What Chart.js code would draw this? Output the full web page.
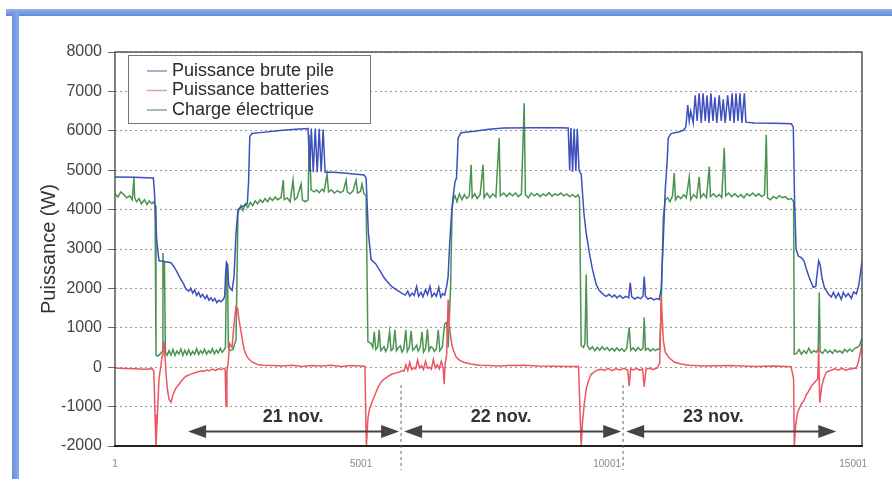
<!DOCTYPE html>
<html>
<head>
<meta charset="utf-8">
<script src="https://cdn.jsdelivr.net/npm/chart.js@4.4.1/dist/chart.umd.min.js"></script>
<style>
  html, body { margin: 0; padding: 0; background: #fff; }
  #wrap { position: relative; width: 892px; height: 481px; }
  #topBar { position: absolute; left: 6px; top: 9px; width: 886px; height: 7px;
            background: linear-gradient(#93b2ea, #6089d9); }
  #leftBar { position: absolute; left: 12px; top: 13px; width: 7px; height: 466px;
             background: linear-gradient(90deg, #6990dc, #8aabe7); }
</style>
</head>
<body>
<div id="wrap">
  <canvas id="powerChart" width="892" height="481"></canvas>
  <div id="topBar"></div>
  <div id="leftBar"></div>
</div>
<script>

// series labels and colours
let seriesLabels = ['Puissance brute pile', 'Puissance batteries', 'Charge électrique'];
let seriesColors = ['#3d50bd', '#ec5660', '#4a9450'];
let legendColors = ['#8d97b8', '#dba3a6', '#86ab8c'];
let yTitle = 'Puissance (W)';
let xTickValues = [1, 5001, 10001, 15001];

// day annotations
let dayLabels = ['21 nov.', '22 nov.', '23 nov.'];
let dayLabelX = [3620, 7848, 12159];
let dayStart = [1485, 5875, 10388];
let dayEnd = [5774, 10287, 14658];
let dayBounds = [5814, 10325];

// Puissance brute pile
let pileX = [1, 380, 780, 800, 850, 895, 1000, 1139, 1200, 1260, 1330, 1400, 1443, 1500, 1540, 1580, 1620, 1660, 1700, 1740,
  1780, 1830, 1870, 1910, 1950, 1990, 2030, 2070, 2110, 2150, 2200, 2230, 2250, 2270, 2290, 2310, 2340, 2380, 2420, 2460,
  2500, 2560, 2620, 2690, 2715, 2740, 2780, 3000, 3300, 3600, 3924, 3960, 3990, 4030, 4070, 4110, 4150, 4190, 4230, 4270,
  4450, 4700, 4900, 5062, 5103, 5150, 5205, 5300, 5408, 5480, 5550, 5620, 5700, 5780, 5850, 5900, 5950, 5990, 6040, 6080,
  6130, 6170, 6220, 6260, 6310, 6350, 6400, 6440, 6490, 6530, 6580, 6620, 6660, 6700, 6740, 6770, 6800, 6840, 6872, 6910,
  6940, 6960, 6973, 7034, 7300, 7600, 7900, 8500, 9000, 9210, 9240, 9265, 9300, 9330, 9365, 9395, 9430, 9474, 9530, 9576,
  9640, 9700, 9779, 9840, 9881, 9940, 9982, 10040, 10100, 10150, 10200, 10260, 10320, 10380, 10440, 10470, 10500, 10560, 10620, 10680,
  10730, 10755, 10780, 10830, 10890, 10950, 11010, 11060, 11100, 11141, 11182, 11220, 11243, 11300, 11450, 11560, 11600, 11640, 11670, 11700,
  11751, 11790, 11830, 11870, 11914, 11950, 11995, 12030, 12070, 12110, 12150, 12190, 12230, 12280, 12320, 12360, 12400, 12450, 12500, 12540,
  12580, 12620, 12660, 12700, 12740, 12790, 12820, 13000, 13400, 13743, 13784, 13810, 13840, 13885, 13946, 14000, 14048, 14100, 14150, 14190,
  14240, 14270, 14300, 14330, 14370, 14420, 14455, 14500, 14557, 14600, 14650, 14700, 14760, 14800, 14850, 14900, 14963, 15010, 15065, 15110,
  15150, 15180];
let pileY = [4830, 4820, 4800, 4500, 3200, 2700, 2680, 2650, 2550, 2420, 2250, 2100, 1980, 1930, 2000, 1880, 1960, 1820, 1900, 1780,
  1850, 1740, 1820, 1700, 1760, 1680, 1740, 1640, 1700, 1660, 1720, 1800, 2400, 2650, 2600, 2100, 2000, 1950, 2300, 3400,
  4000, 4060, 4100, 4150, 4700, 5850, 5930, 5960, 6000, 6030, 6060, 4960, 6060, 4950, 6060, 4950, 6050, 4960, 6040, 4950,
  4950, 4920, 4900, 4880, 4800, 3400, 2730, 2620, 2400, 2250, 2150, 2050, 1980, 1920, 1860, 1830, 1930, 1800, 1880, 1820,
  2050, 1800, 1900, 1790, 1970, 1840, 2050, 1790, 1880, 1800, 2030, 1780, 1870, 1830, 2050, 2300, 3100, 3900, 4330, 4700,
  4800, 5400, 5820, 5950, 5990, 6040, 6070, 6080, 6080, 6070, 5000, 6070, 4960, 6050, 4980, 6050, 4990, 4900, 3900, 3400,
  2900, 2500, 2100, 1950, 1900, 1830, 1800, 1850, 1780, 1830, 1760, 1820, 1750, 1800, 1760, 2150, 1790, 1730, 1780, 1740,
  1800, 2300, 1800, 1730, 1760, 1710, 1740, 1720, 2000, 3200, 4500, 5200, 5820, 5930, 5970, 6020, 6100, 6650, 6250, 6500,
  6200, 6900, 6250, 6950, 6200, 6950, 6250, 6900, 6200, 6950, 6250, 6850, 6200, 6900, 6250, 6800, 6200, 6900, 6250, 6950,
  6200, 6950, 6250, 6950, 6200, 6950, 6220, 6200, 6190, 6180, 6100, 4200, 3000, 2820, 2780, 2700, 2500, 2300, 2150, 2030,
  2050, 2400, 2700, 2600, 2250, 2000, 1950, 1850, 1780, 1900, 1760, 1880, 1720, 1900, 1790, 1870, 1750, 1910, 1860, 2050,
  2400, 2700];

// Puissance batteries
let battX = [1, 200, 400, 600, 760, 790, 815, 834, 860, 895, 935, 960, 975, 996, 1015, 1040, 1070, 1100, 1139, 1180,
  1230, 1290, 1350, 1400, 1443, 1500, 1560, 1620, 1680, 1740, 1800, 1860, 1920, 1980, 2040, 2100, 2160, 2210, 2240, 2257,
  2275, 2300, 2330, 2380, 2420, 2460, 2490, 2521, 2562, 2623, 2680, 2724, 2800, 2900, 3000, 3200, 3400, 3600, 3800, 4000,
  4200, 4400, 4600, 4800, 5000, 5080, 5100, 5110, 5140, 5175, 5205, 5250, 5300, 5350, 5408, 5470, 5550, 5620, 5700, 5780,
  5830, 5875, 5910, 5950, 5990, 6030, 6070, 6110, 6150, 6190, 6230, 6270, 6310, 6350, 6390, 6430, 6470, 6510, 6550, 6590,
  6630, 6670, 6690, 6710, 6740, 6770, 6800, 6840, 6872, 6933, 7000, 7100, 7238, 7400, 7600, 7800, 8000, 8300, 8600, 8900,
  9200, 9420, 9460, 9474, 9500, 9540, 9576, 9620, 9677, 9760, 9840, 9881, 9950, 10020, 10100, 10180, 10260, 10340, 10420, 10450,
  10480, 10540, 10600, 10660, 10720, 10755, 10790, 10860, 10940, 11020, 11070, 11100, 11141, 11182, 11250, 11365, 11500, 11670, 12000, 12500,
  13000, 13400, 13740, 13790, 13804, 13830, 13870, 13946, 14000, 14048, 14100, 14150, 14220, 14280, 14300, 14320, 14360, 14400, 14455, 14520,
  14557, 14620, 14700, 14780, 14850, 14920, 14963, 15020, 15065, 15110, 15150, 15180];
let battY = [-20, -30, -40, -50, -40, -100, -1200, -1990, -1300, -300, 50, 300, 600, 630, 300, -200, -600, -820, -890, -700,
  -550, -450, -350, -280, -230, -200, -170, -140, -120, -90, -110, -70, -90, -50, -80, -40, -60, -30, -50, -1000,
  -100, 100, 600, 500, 1100, 1540, 1500, 1200, 900, 450, 280, 200, 120, 70, 50, 40, 30, 50, 20, 40,
  30, 50, 20, 40, 30, 20, -1500, -1990, -1300, -1050, -950, -800, -650, -500, -380, -300, -230, -180, -150, -120,
  -90, -100, 60, -80, 120, -60, -10, -40, 180, -20, 40, -60, 150, -30, 0, -50, 200, -20, 60, -40,
  150, -30, -430, 100, 300, 1720, 1000, 600, 450, 260, 180, 120, 80, 50, 40, 30, 40, 50, 30, 25,
  20, 15, -1500, -1990, -1400, -900, -560, -350, -180, -100, -60, -50, -80, -30, -90, -40, -70, -30, -80, -480,
  -40, -70, -30, -80, -40, -500, -50, -30, -60, -20, 100, 1800, 700, 380, 250, 130, 80, 50, 30, 40,
  20, 30, 10, -300, -1990, -1500, -1150, -940, -850, -700, -600, -480, -380, -300, 530, -900, -500, -300, -130, -90,
  -80, -40, -70, -30, -80, -40, -50, -20, -30, 150, 400, 600];

// Charge électrique
let chargeX = [1, 60, 120, 180, 240, 300, 350, 386, 400, 440, 490, 540, 600, 650, 700, 750, 790, 815, 834, 870,
  930, 960, 975, 990, 1005, 1025, 1060, 1100, 1140, 1180, 1220, 1260, 1300, 1340, 1380, 1420, 1460, 1500, 1540, 1580,
  1620, 1660, 1700, 1740, 1780, 1820, 1860, 1900, 1940, 1980, 2020, 2060, 2100, 2140, 2180, 2220, 2245, 2265, 2285, 2305,
  2340, 2400, 2460, 2500, 2521, 2560, 2600, 2650, 2700, 2750, 2800, 2850, 2900, 2950, 3000, 3050, 3100, 3150, 3200, 3260,
  3300, 3375, 3420, 3440, 3500, 3560, 3619, 3650, 3700, 3782, 3810, 3870, 3924, 3950, 3985, 4046, 4100, 4150, 4210, 4250,
  4310, 4340, 4400, 4460, 4520, 4580, 4640, 4697, 4720, 4780, 4840, 4900, 4930, 4990, 5020, 5062, 5103, 5140, 5205, 5240,
  5270, 5300, 5340, 5370, 5400, 5440, 5470, 5500, 5540, 5580, 5610, 5650, 5690, 5720, 5760, 5800, 5830, 5870, 5910, 5940,
  5980, 6020, 6050, 6090, 6130, 6160, 6200, 6240, 6270, 6310, 6350, 6380, 6420, 6460, 6490, 6530, 6570, 6600, 6650, 6700,
  6740, 6770, 6820, 6850, 6872, 6910, 6950, 7000, 7050, 7100, 7150, 7200, 7238, 7260, 7310, 7360, 7420, 7481, 7500, 7560,
  7620, 7680, 7740, 7807, 7830, 7900, 7960, 8020, 8080, 8140, 8200, 8260, 8315, 8340, 8400, 8460, 8520, 8580, 8640, 8700,
  8760, 8820, 8880, 8940, 9000, 9060, 9120, 9180, 9240, 9300, 9360, 9410, 9440, 9474, 9520, 9550, 9576, 9600, 9650, 9700,
  9750, 9800, 9850, 9900, 9950, 10000, 10050, 10100, 10150, 10200, 10250, 10300, 10350, 10400, 10450, 10480, 10530, 10580, 10630, 10680,
  10730, 10755, 10780, 10830, 10880, 10930, 10980, 11030, 11070, 11100, 11141, 11182, 11230, 11280, 11330, 11365, 11390, 11440, 11500, 11560,
  11609, 11670, 11700, 11760, 11820, 11873, 11900, 11960, 12020, 12076, 12100, 12160, 12220, 12280, 12330, 12381, 12410, 12470, 12530, 12600,
  12660, 12720, 12780, 12840, 12900, 12960, 13020, 13080, 13140, 13200, 13235, 13260, 13320, 13380, 13440, 13500, 13560, 13620, 13680, 13743,
  13790, 13804, 13850, 13900, 13950, 14000, 14050, 14100, 14150, 14200, 14250, 14290, 14312, 14330, 14380, 14430, 14480, 14530, 14580, 14630,
  14680, 14730, 14780, 14830, 14880, 14930, 14980, 15030, 15080, 15130, 15180];
let chargeY = [4400, 4320, 4450, 4380, 4300, 4350, 4250, 4800, 4300, 4200, 4280, 4150, 4250, 4130, 4220, 4150, 4200, 4100, 300, 280,
  350, 400, 2900, 2000, 2700, 380, 300, 420, 310, 450, 300, 410, 330, 460, 300, 430, 320, 440, 310, 400,
  330, 470, 320, 420, 350, 460, 330, 420, 360, 470, 340, 430, 360, 480, 380, 450, 500, 2650, 2600, 500,
  420, 450, 700, 3900, 4000, 4100, 3980, 4150, 4050, 4180, 4100, 4220, 4150, 4250, 4180, 4280, 4200, 4300, 4230, 4320,
  4250, 4300, 4750, 4250, 4300, 4200, 4750, 4250, 4300, 4650, 4250, 4200, 4250, 5900, 4500, 4450, 4500, 4430, 4520, 4460,
  4900, 4450, 4500, 4420, 4480, 4430, 4470, 4750, 4450, 4400, 4480, 4750, 4420, 4460, 4650, 4400, 4350, 650, 600, 500,
  900, 450, 520, 950, 420, 480, 520, 400, 500, 900, 420, 460, 950, 420, 500, 540, 380, 470, 950, 400,
  500, 920, 430, 480, 560, 410, 500, 900, 380, 470, 960, 420, 520, 480, 400, 460, 950, 420, 500, 1100,
  1140, 500, 2000, 4000, 4250, 4350, 4200, 4400, 4250, 4380, 4280, 4350, 5140, 4300, 4400, 4280, 4380, 5140, 4300, 4420,
  4300, 4400, 4320, 5820, 4350, 4420, 4330, 4420, 4350, 4420, 4330, 4400, 6700, 4380, 4300, 4420, 4350, 4410, 4330, 4400,
  4350, 4430, 4340, 4400, 4360, 4420, 4350, 4400, 4330, 4380, 4320, 4370, 4300, 550, 500, 600, 2350, 550, 450, 520,
  420, 500, 430, 520, 440, 500, 420, 480, 410, 490, 420, 470, 400, 480, 1010, 430, 490, 410, 500, 430,
  480, 1260, 430, 480, 410, 470, 420, 460, 450, 1500, 3800, 4250, 4300, 4200, 4350, 4930, 4250, 4350, 4280, 4380,
  4300, 4830, 4250, 4380, 4300, 4830, 4300, 4400, 4300, 5090, 4330, 4400, 4320, 4380, 4300, 5570, 4350, 4420, 4330, 4400,
  4320, 4380, 4300, 4400, 4350, 4420, 4340, 4400, 4330, 4380, 5900, 4300, 4250, 4330, 4280, 4350, 4300, 4330, 4260, 4280,
  4200, 330, 350, 450, 330, 420, 350, 480, 360, 420, 380, 450, 1900, 400, 350, 450, 370, 420, 350, 440,
  380, 420, 360, 450, 390, 460, 400, 480, 500, 550, 750];

function toPoints(xs, ys) {
    return xs.map((v, i) => ({ x: v, y: ys[i] }));
}

const fontFamily = '"Liberation Sans", Arial, sans-serif';

// frame, day arrows and legend box drawn on top of the datasets
const decorPlugin = {
    id: 'decor',
    afterDatasetsDraw(chart) {
        const { ctx, chartArea: a, scales } = chart;
        const x = scales.x, y = scales.y;
        ctx.save();

        // plot frame
        ctx.setLineDash([]);
        ctx.strokeStyle = '#555';
        ctx.lineWidth = 1.5;
        ctx.beginPath();
        ctx.moveTo(a.left, a.bottom);
        ctx.lineTo(a.left, a.top);
        ctx.lineTo(a.right, a.top);
        ctx.lineTo(a.right, a.bottom);
        ctx.stroke();
        ctx.strokeStyle = '#222';
        ctx.lineWidth = 2;
        ctx.beginPath();
        ctx.moveTo(a.left - 1, a.bottom);
        ctx.lineTo(a.right + 1, a.bottom);
        ctx.stroke();

        // day boundaries
        ctx.strokeStyle = '#666';
        ctx.lineWidth = 1;
        ctx.setLineDash([3, 3]);
        dayBounds.forEach(v => {
            const px = x.getPixelForValue(v);
            ctx.beginPath();
            ctx.moveTo(px, y.getPixelForValue(-450));
            ctx.lineTo(px, a.bottom + 24);
            ctx.stroke();
        });
        ctx.setLineDash([]);

        // day arrows
        const ay = y.getPixelForValue(-1630);
        const ly = y.getPixelForValue(-1270);
        ctx.strokeStyle = '#444';
        ctx.lineWidth = 2;
        ctx.font = 'bold 18px ' + fontFamily;
        ctx.textAlign = 'center';
        ctx.textBaseline = 'middle';
        dayLabels.forEach((lab, i) => {
            const x1 = x.getPixelForValue(dayStart[i]);
            const x2 = x.getPixelForValue(dayEnd[i]);
            ctx.fillStyle = '#444';
            ctx.beginPath();
            ctx.moveTo(x1 + 10, ay);
            ctx.lineTo(x2 - 10, ay);
            ctx.stroke();
            ctx.beginPath();
            ctx.moveTo(x1, ay); ctx.lineTo(x1 + 18, ay - 6.5); ctx.lineTo(x1 + 18, ay + 6.5); ctx.closePath();
            ctx.fill();
            ctx.beginPath();
            ctx.moveTo(x2, ay); ctx.lineTo(x2 - 18, ay - 6.5); ctx.lineTo(x2 - 18, ay + 6.5); ctx.closePath();
            ctx.fill();
            ctx.fillStyle = '#333';
            ctx.fillText(lab, x.getPixelForValue(dayLabelX[i]), ly);
        });

        // legend box
        const bx = a.left + 13, by = a.top + 3, bw = 242, bh = 68;
        ctx.fillStyle = '#fff';
        ctx.fillRect(bx, by, bw, bh);
        ctx.strokeStyle = '#777';
        ctx.lineWidth = 1;
        ctx.strokeRect(bx + 0.5, by + 0.5, bw, bh);
        ctx.font = '18px ' + fontFamily;
        ctx.textAlign = 'left';
        ctx.textBaseline = 'middle';
        chart.data.datasets.forEach((ds, i) => {
            const ry = by + 16 + i * 19.5;
            ctx.strokeStyle = legendColors[i];
            ctx.lineWidth = 1.5;
            ctx.beginPath();
            ctx.moveTo(bx + 19, ry);
            ctx.lineTo(bx + 39, ry);
            ctx.stroke();
            ctx.fillStyle = '#2a2a2a';
            ctx.fillText(ds.label, bx + 44, ry);
        });
        ctx.restore();
    }
};

const ctx = document.getElementById('powerChart');
const powerChart = new Chart(ctx, {
    type: 'line',
    data: {
        datasets: [
            { label: seriesLabels[0], data: toPoints(pileX, pileY), borderColor: seriesColors[0] },
            { label: seriesLabels[1], data: toPoints(battX, battY), borderColor: seriesColors[1] },
            { label: seriesLabels[2], data: toPoints(chargeX, chargeY), borderColor: seriesColors[2] }
        ]
    },
    options: {
        responsive: false,
        animation: false,
        elements: {
            line: { borderWidth: 1.5, tension: 0 },
            point: { radius: 0 }
        },
        layout: { padding: { top: 52, right: 30, left: 0, bottom: 0 } },
        plugins: {
            legend: { display: false },
            tooltip: { enabled: false }
        },
        scales: {
            x: {
                type: 'linear',
                min: 1,
                max: 15180,
                afterBuildTicks: s => { s.ticks = xTickValues.map(v => ({ value: v })); },
                afterFit: s => { s.height = 35; },
                ticks: {
                    color: '#8a8a8a',
                    font: { family: fontFamily, size: 10 },
                    padding: 12,
                    maxRotation: 0,
                    autoSkip: false,
                    callback: v => String(v)
                },
                grid: { display: false, drawTicks: false },
                border: { display: false }
            },
            y: {
                min: -2000,
                max: 8000,
                afterFit: s => { s.width = 115; },
                ticks: {
                    stepSize: 1000,
                    color: '#444',
                    font: { family: fontFamily, size: 16 },
                    padding: 6,
                    callback: v => String(v)
                },
                grid: {
                    color: 'rgba(120,120,120,0.75)',
                    lineWidth: 1,
                    tickLength: 7,
                    tickColor: '#666',
                    tickBorderDash: []
                },
                border: { display: false, dash: [2, 3] },
                title: {
                    display: true,
                    text: yTitle,
                    color: '#333',
                    font: { family: fontFamily, size: 20 },
                    padding: { top: 37, bottom: 0 }
                }
            }
        }
    },
    plugins: [decorPlugin]
});

</script>
</body>
</html>
